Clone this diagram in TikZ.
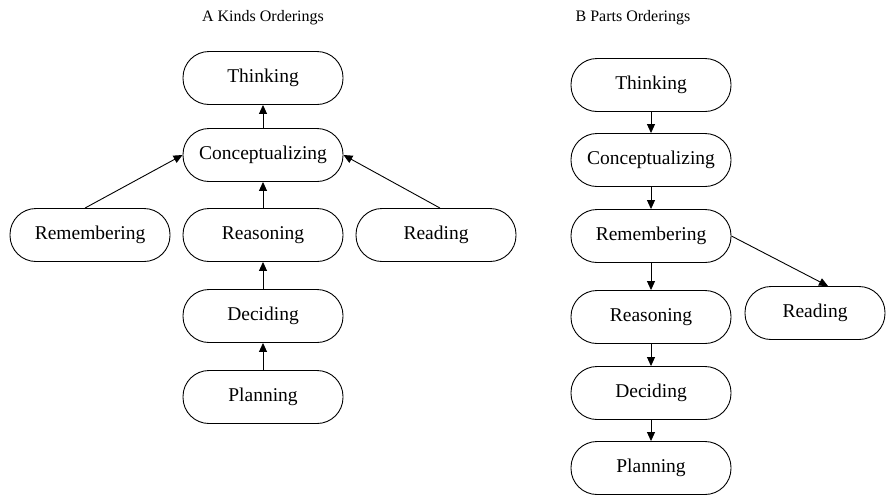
\documentclass[tikz,border=0pt]{standalone}
\usepackage{fontspec}
\setmainfont{Liberation Serif}
\usetikzlibrary{arrows.meta,positioning}

\tikzset{
  stage/.style={draw, line width=0.9pt, rounded corners=26pt, minimum width=160pt,
    minimum height=53pt, font=\fontsize{19.5}{22}\selectfont},
  arr/.style={line width=0.9pt, -{Triangle[width=8pt,length=9pt]}},
  heading/.style={font=\fontsize{16}{19}\selectfont}
}

\begin{document}
\begin{tikzpicture}[x=1pt,y=-1pt]
  \useasboundingbox (0,0) rectangle (896,496);

  % A Kinds Orderings
  \node[heading] (titleA) at (263,18) {A Kinds Orderings};
  \node[stage] (kThink) at (263,78) {Thinking};
  \node[stage] (kConc) at (263,155) {Conceptualizing};
  \node[stage] (kRem) at (90,235) {Remembering};
  \node[stage] (kReas) at (263,235) {Reasoning};
  \node[stage] (kRead) at (436,235) {Reading};
  \node[stage] (kDec) at (263,316) {Deciding};
  \node[stage] (kPlan) at (263,397) {Planning};

  \draw[arr] (kConc) -- (kThink);
  \draw[arr] ([xshift=-5pt]kRem.north) -- (kConc.west);
  \draw[arr] ([xshift=4pt]kRead.north) -- (kConc.east);
  \draw[arr] (kReas) -- (kConc);
  \draw[arr] (kDec) -- (kReas);
  \draw[arr] (kPlan) -- (kDec);

  % B Parts Orderings
  \node[heading] (titleB) at (633,18) {B Parts Orderings};
  \node[stage] (pThink) at (651,85) {Thinking};
  \node[stage] (pConc) at (651,160) {Conceptualizing};
  \node[stage] (pRem) at (651,236) {Remembering};
  \node[stage] (pReas) at (651,317) {Reasoning};
  \node[stage, minimum width=140pt] (pRead) at (815,313) {Reading};
  \node[stage] (pDec) at (651,393) {Deciding};
  \node[stage] (pPlan) at (651,468) {Planning};

  \draw[arr] (pThink) -- (pConc);
  \draw[arr] (pConc) -- (pRem);
  \draw[arr] (pRem) -- (pReas);
  \draw[arr] (pRem.east) -- ([xshift=13pt]pRead.north);
  \draw[arr] (pReas) -- (pDec);
  \draw[arr] (pDec) -- (pPlan);
\end{tikzpicture}
\end{document}
